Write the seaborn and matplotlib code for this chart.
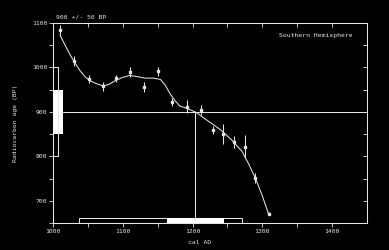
import numpy as np
import pandas as pd
import matplotlib
matplotlib.use("Agg")
import matplotlib.pyplot as plt
import seaborn as sns
from matplotlib.patches import Rectangle

# ---- data ----
curve_x = [1010, 1017, 1024, 1032, 1039, 1046, 1053, 1063, 1071, 1079, 1089, 1099,
           1110, 1122, 1132, 1144, 1154, 1161, 1168, 1175, 1182, 1192, 1205, 1220,
           1240, 1256, 1271, 1280, 1290, 1300, 1309]
curve_y = [1073, 1051, 1030, 1009, 992, 979, 970, 963, 959, 961, 970, 977,
           982, 979, 976, 976, 973, 960, 940, 925, 913, 908, 899, 882,
           860, 837, 811, 784, 751, 711, 670]

meas_x = [1010, 1030, 1051, 1071, 1090, 1110, 1130, 1150, 1170, 1192, 1212,
          1230, 1244, 1260, 1275, 1290, 1309]
meas_y = [1084, 1015, 974, 958, 976, 989, 956, 991, 923, 912, 904,
          860, 850, 832, 822, 751, 671]
meas_err = [11, 11, 9, 10, 8, 11, 12, 11, 9, 14, 12, 9, 23, 13, 25, 11, 4]

sample_age = 900
sample_err = 50
cal_intercept = 1204
range_1sigma = (1163, 1243)
range_2sigma = (1037, 1271)

x_major = [1000, 1100, 1200, 1300, 1400]
x_minor = [1050, 1150, 1250, 1350]
y_major = [700, 800, 900, 1000, 1100]
y_minor = [650, 750, 850, 950, 1050]

title_text = "900 +/- 50 BP"
region_text = "Southern Hemisphere"
x_label = "cal AD"
y_label = "Radiocarbon age (BP)"

# ---- styling ----
FG = "#e4e4e4"
FS = 4.6
LW = 0.75

sns.set_theme(style="dark")
plt.rcParams["font.family"] = ["DejaVu Sans Mono", "DejaVu Sans"]

fig = plt.figure(figsize=(3.89, 2.50), dpi=100, facecolor="black")
ax = fig.add_axes([53 / 389, 27 / 250, 314 / 389, 200 / 250])
ax.set_facecolor("black")
ax.grid(False)

curve = pd.DataFrame({"x": curve_x, "y": curve_y})
sns.lineplot(data=curve, x="x", y="y", ax=ax, color=FG, lw=LW,
             sort=False, estimator=None)

ax.errorbar(meas_x, meas_y, yerr=meas_err, fmt="s", ms=2.0, mfc=FG, mec=FG,
            ecolor=FG, elinewidth=LW, capsize=0, zorder=3)

ax.set_xlim(1000, 1450)
ax.set_ylim(650, 1100)

# sample age box (1 sigma filled, 2 sigma bracket) on the y axis
ytr = ax.get_yaxis_transform()
ax.add_patch(Rectangle((0, sample_age - sample_err), 0.032, 2 * sample_err,
                       transform=ytr, facecolor="white", edgecolor="none",
                       zorder=4, clip_on=False))
ax.plot([0, 0.016, 0.016, 0],
        [sample_age + 2 * sample_err, sample_age + 2 * sample_err,
         sample_age - 2 * sample_err, sample_age - 2 * sample_err],
        transform=ytr, color=FG, lw=LW, zorder=4, clip_on=False)
ax.plot([0.032, 1], [sample_age, sample_age], transform=ytr, color=FG, lw=LW)

# intercept
ax.plot([cal_intercept, cal_intercept], [650, sample_age], color=FG, lw=LW)

# calibrated ranges on the x axis
xtr = ax.get_xaxis_transform()
ax.add_patch(Rectangle((range_2sigma[0], 0), range_2sigma[1] - range_2sigma[0], 0.027,
                       transform=xtr, facecolor="none", edgecolor=FG, lw=LW, zorder=4))
ax.add_patch(Rectangle((range_1sigma[0], 0), range_1sigma[1] - range_1sigma[0], 0.027,
                       transform=xtr, facecolor="white", edgecolor="white", lw=LW, zorder=5))

# ticks
ax.set_xticks(x_major)
ax.set_xticks(x_minor, minor=True)
ax.set_yticks(y_major)
ax.set_yticks(y_minor, minor=True)
ax.tick_params(axis="both", which="both", direction="out", colors=FG,
               labelsize=FS, length=3, width=0.6, pad=1,
               bottom=True, left=True, top=False, right=False)
ax.tick_params(axis="x", pad=1.5)
for s in ax.spines.values():
    s.set_visible(True)
    s.set_color(FG)
    s.set_linewidth(LW)

# inward ticks on top and right
axr = ax.twinx()
axr.set_ylim(ax.get_ylim())
axr.set_yticks(y_major)
axr.set_yticks(y_minor, minor=True)
axr.tick_params(axis="y", which="both", direction="in", colors=FG, length=3,
                width=0.6, labelright=False)
axt = ax.twiny()
axt.set_xlim(ax.get_xlim())
axt.set_xticks(x_major)
axt.set_xticks(x_minor, minor=True)
axt.tick_params(axis="x", which="both", direction="in", colors=FG, length=3,
                width=0.6, labeltop=False)
for a in (axr, axt):
    a.grid(False)
    for s in a.spines.values():
        s.set_visible(False)

ax.set_xlabel(x_label, fontsize=FS, color=FG)
ax.set_ylabel(y_label, fontsize=FS, color=FG)
ax.xaxis.set_label_coords(0.468, -0.085)
ax.yaxis.set_label_coords(-0.111, 0.5)

ax.text(0.01, 1.03, title_text, transform=ax.transAxes, fontsize=FS,
        color=FG, ha="left", va="center")
ax.text(0.955, 0.935, region_text, transform=ax.transAxes, fontsize=FS,
        color=FG, ha="right", va="center")

fig.savefig("out.png", dpi=100, facecolor="black")
